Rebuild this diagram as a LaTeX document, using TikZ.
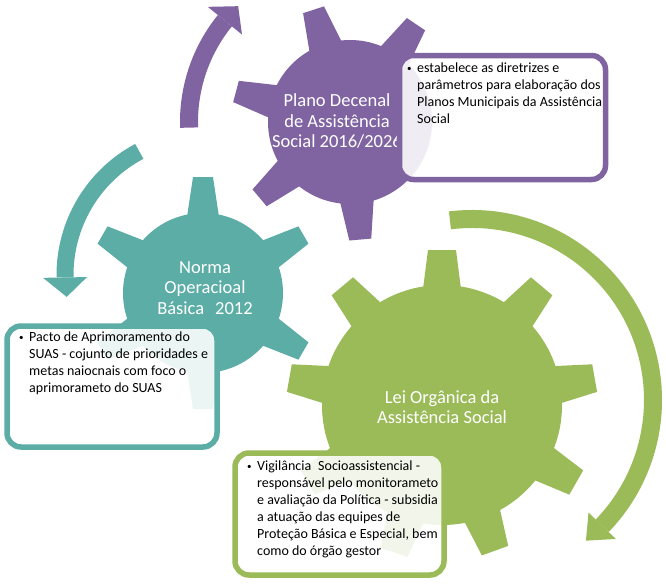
\documentclass[tikz,border=0pt]{standalone}
\usepackage{fontspec}
\setmainfont{Carlito}
\definecolor{gpurple}{HTML}{8064A2}
\definecolor{gteal}{HTML}{5CADA6}
\definecolor{ggreen}{HTML}{9BBB59}
\newcommand\gearpic[7]{%
  \fill[#2] (#1) circle[radius=#3pt];
  \foreach \a in {#7} {%
    \fill[#2, shift={(#1)}, rotate=\a] (#3-4,-#5) -- (#4,-#6) -- (#4,#6) -- (#3-4,#5) -- cycle;}%
}
\newcommand\arcarrow[8]{% center, color, R, start, end(head base), tip angle, half head width, shaft width
  \draw[#2, line width=#8pt] ([shift={(#4:#3pt)}]#1) arc[start angle=#4, end angle=#5, radius=#3pt];
  \fill[#2] ([shift={(#5:#3pt-#7pt)}]#1) -- ([shift={(#5:#3pt+#7pt)}]#1) -- ([shift={(#6:#3pt)}]#1) -- cycle;
}
\newcommand\bul{\makebox[10pt][l]{\raisebox{1.5pt}{\fontsize{9}{9}\selectfont\textbullet}}}
\newcommand\ind{\hspace*{10pt}}
\begin{document}
\begin{tikzpicture}[x=1pt,y=1pt,
  gearlabel/.style={text=white, font=\fontsize{18.5}{20.5}\selectfont, align=center, inner sep=0pt},
  infobox/.style={draw=#1, line width=5.5pt, rounded corners=14pt, fill=white, fill opacity=0.88, draw opacity=1, inner sep=0pt},
  boxtext/.style={anchor=north west, inner sep=0pt, font=\fontsize{14}{17}\selectfont, align=left, text=black}]
\useasboundingbox (0,0) rectangle (666,-584);
\fill[white] (0,0) rectangle (666,-584);
% centres
\coordinate (pc) at (350,-122);
\coordinate (tc) at (203,-293);
\coordinate (gc) at (442,-405);
\coordinate (tac) at (205,-275);
\coordinate (gac) at (472,-400);
% arrows
\arcarrow{pc}{gpurple}{161}{182}{141}{134}{22}{18}
\arcarrow{tac}{gteal}{140}{118}{181}{189}{22}{17}
\arcarrow{gac}{ggreen}{181}{97}{-44}{-51}{19}{18}
% gears
\gearpic{gc}{ggreen}{120}{155}{19}{14}{10,50,90,130,170,210,252,290,330}
\gearpic{tc}{gteal}{80}{116}{16}{10}{30,90,150,210,270,330}
\gearpic{pc}{gpurple}{82}{118}{17}{11}{56,108,165,220,275}
% gear labels
\node[gearlabel] (plab) at (337,-121) {Plano Decenal\\de Assistência\\Social 2016/2026};
\node[gearlabel] (tlab) at (205,-288) {Norma\\Operacioal\\Básica\hspace{11pt}2012};
\node[gearlabel] (glab) at (442,-407) {Lei Orgânica da\\Assistência Social};
% boxes
\node[infobox=gpurple, minimum width=206pt, minimum height=124pt] (pbox) at (502.5,-117.5) {};
\node[infobox=gteal, minimum width=210pt, minimum height=121pt] (tbox) at (112,-386.5) {};
\node[infobox=ggreen, minimum width=209pt, minimum height=122pt] (gbox) at (339.5,-514) {};
% box texts
\node[boxtext] (ptext) at (407,-63) {\bul estabelece as diretrizes e\\\ind parâmetros para elaboração dos\\\ind Planos Municipais da Assistência\\\ind Social};
\node[boxtext] (ttext) at (19,-332) {\bul Pacto de Aprimoramento do\\\ind SUAS - cojunto de prioridades e\\\ind metas naiocnais com foco o\\\ind aprimorameto do SUAS};
\node[boxtext] (gtext) at (247,-461) {\bul Vigilância\hspace{7pt}Socioassistencial -\\\ind responsável pelo monitorameto\\\ind e avaliação da Política - subsidia\\\ind a atuação das equipes de\\\ind Proteção Básica e Especial, bem\\\ind como do órgão gestor};
\end{tikzpicture}
\end{document}
